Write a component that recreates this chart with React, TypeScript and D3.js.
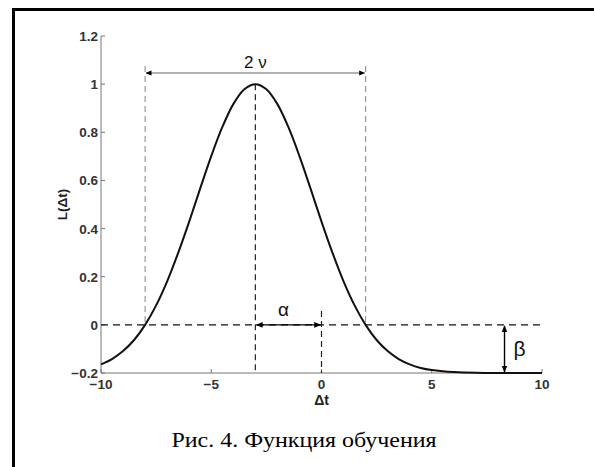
import React from 'react';
import * as d3 from 'd3';

// curve L(Δt)
const dtValues = [-10, -9.5, -9, -8.5, -8, -7.5, -7, -6.5, -6, -5.5, -5, -4.5, -4, -3.5, -3, -2.5, -2, -1.5, -1, -0.5, 0, 0.5, 1, 1.5, 2, 2.5, 3, 3.5, 4, 4.5, 5, 5.5, 6, 7, 8, 9, 10];
const lValues = [-0.164, -0.142, -0.109, -0.063, 0, 0.081, 0.181, 0.299, 0.429, 0.567, 0.701, 0.821, 0.917, 0.979, 1, 0.979, 0.917, 0.821, 0.701, 0.567, 0.429, 0.299, 0.181, 0.081, 0, -0.063, -0.109, -0.142, -0.164, -0.179, -0.188, -0.193, -0.196, -0.199, -0.2, -0.2, -0.2];

const xTicks = [-10, -5, 0, 5, 10];
const xTickLabels = ['\u221210', '\u22125', '0', '5', '10'];
const yTicks = [-0.2, 0, 0.2, 0.4, 0.6, 0.8, 1, 1.2];
const yTickLabels = ['\u22120.2', '0', '0.2', '0.4', '0.6', '0.8', '1', '1.2'];

// annotation parameters
const peakAt = -3;
const zeroLeft = -8;
const zeroRight = 2;
const betaAt = 8.3;
const minValue = -0.2;

const W = 594;
const H = 467;

const x = d3.scaleLinear().domain([-10, 10]).range([101, 542]);
const y = d3.scaleLinear().domain([-0.2, 1.2]).range([373, 36]);

const TICK_FONT = 'Arial, "Liberation Sans", sans-serif';

const App: React.FC = () => {
  const points: [number, number][] = dtValues.map((d, i) => [d, lValues[i]]);
  const line = d3.line<[number, number]>()
    .x(d => x(d[0]))
    .y(d => y(d[1]))
    .curve(d3.curveCatmullRom);

  const y0 = y(0);
  const yBottom = y(-0.2);
  const yTop = y(1.2);
  const arrowY = 73;

  return (
    <svg width={W} height={H} style={{ position: 'absolute', left: 0, top: 0, display: 'block', background: '#fff' }}>
      <defs>
        <marker id="ah" viewBox="0 0 10 10" refX="9" refY="5" markerWidth="5" markerHeight="5" orient="auto-start-reverse">
          <path d="M0,1 L10,5 L0,9 z" fill="#000" />
        </marker>
        <marker id="ahs" viewBox="0 0 10 10" refX="9" refY="5" markerWidth="6" markerHeight="6" orient="auto-start-reverse">
          <path d="M0,1 L10,5 L0,9 z" fill="#000" />
        </marker>
      </defs>

      {/* frame */}
      <path d={`M13.5,${H} L13.5,9.5 L${W},9.5`} fill="none" stroke="#000" strokeWidth={3} />

      {/* axes */}
      <line x1={x(-10)} x2={x(-10)} y1={yTop} y2={yBottom} stroke="#777" strokeWidth={1} />
      <line x1={x(-10)} x2={x(10)} y1={yBottom} y2={yBottom} stroke="#777" strokeWidth={1} />
      {yTicks.map((t, i) => (
        <g key={`y${t}`}>
          <line x1={x(-10)} x2={x(-10) + 4} y1={y(t)} y2={y(t)} stroke="#777" />
          <text x={x(-10) - 3} y={y(t) + 5} textAnchor="end" fontFamily={TICK_FONT} fontSize={13.5} fontWeight="bold" fill="#333">{yTickLabels[i]}</text>
        </g>
      ))}
      {xTicks.map((t, i) => (
        <g key={`x${t}`}>
          <line x1={x(t)} x2={x(t)} y1={yBottom} y2={yBottom - 4} stroke="#777" />
          <text x={x(t)} y={yBottom + 16} textAnchor="middle" fontFamily={TICK_FONT} fontSize={13.5} fontWeight="bold" fill="#333">{xTickLabels[i]}</text>
        </g>
      ))}

      {/* dashed guides */}
      <line x1={x(-10)} x2={x(10)} y1={y0} y2={y0} stroke="#111" strokeWidth={1.2} strokeDasharray="7,5" />
      <line x1={x(zeroLeft)} x2={x(zeroLeft)} y1={66} y2={y0} stroke="#999" strokeWidth={1.2} strokeDasharray="6,4" />
      <line x1={x(zeroRight)} x2={x(zeroRight)} y1={66} y2={y0} stroke="#999" strokeWidth={1.2} strokeDasharray="6,4" />
      <line x1={x(peakAt)} x2={x(peakAt)} y1={y(1)} y2={yBottom} stroke="#222" strokeWidth={1.2} strokeDasharray="6,4" />
      <line x1={x(0)} x2={x(0)} y1={311} y2={yBottom} stroke="#222" strokeWidth={1.2} strokeDasharray="6,4" />

      {/* curve */}
      <path d={line(points) ?? ''} fill="none" stroke="#111" strokeWidth={2} />

      {/* 2ν */}
      <line x1={x(zeroLeft) + 1} x2={x(zeroRight) - 1} y1={arrowY} y2={arrowY} stroke="#666" strokeWidth={1} markerStart="url(#ahs)" markerEnd="url(#ahs)" />
      <text x={x(peakAt)} y={68} textAnchor="middle" fontFamily={TICK_FONT} fontSize={17} fill="#111">2 ν</text>

      {/* α */}
      <line x1={x(peakAt) + 1} x2={x(0) - 1} y1={y0} y2={y0} stroke="#000" strokeWidth={1.4} markerStart="url(#ah)" markerEnd="url(#ah)" />
      <text x={x(peakAt / 2) - 5} y={316} textAnchor="middle" fontFamily={TICK_FONT} fontSize={19} fill="#111">α</text>

      {/* β */}
      <line x1={x(betaAt)} x2={x(betaAt)} y1={y0 + 1} y2={y(minValue) - 1} stroke="#000" strokeWidth={1.4} markerStart="url(#ah)" markerEnd="url(#ah)" />
      <text x={x(betaAt) + 9} y={y(-0.1) + 7} fontFamily={TICK_FONT} fontSize={21} fill="#111">β</text>

      {/* axis labels */}
      <text x={x(0)} y={405} textAnchor="middle" fontFamily={TICK_FONT} fontSize={14} fontWeight="bold" fill="#222">Δt</text>
      <text transform={`translate(67,${y(0.5)}) rotate(-90)`} textAnchor="middle" fontFamily={TICK_FONT} fontSize={13.5} fontWeight="bold" fill="#222">L(Δt)</text>

      {/* caption */}
      <text x={304} y={447} textAnchor="middle" textLength={265} lengthAdjust="spacingAndGlyphs" fontFamily={'"Liberation Serif", "Times New Roman", serif'} fontSize={21} fill="#000">Рис. 4. Функция обучения</text>
    </svg>
  );
};

export default App;
